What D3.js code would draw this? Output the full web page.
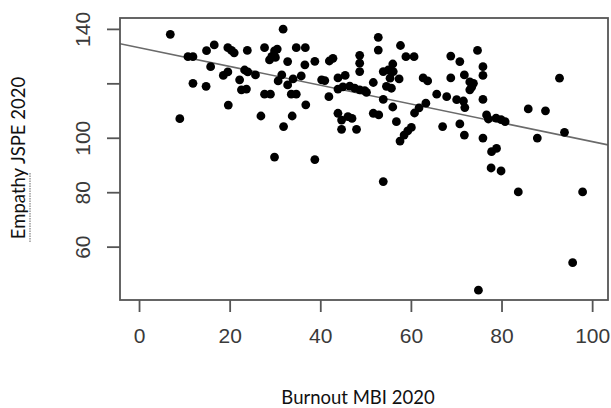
<!DOCTYPE html>
<html>
<head>
<meta charset="utf-8">
<script src="https://cdn.jsdelivr.net/npm/d3@7"></script>
<style>
  body { margin: 0; background: #fff; }
  svg { display: block; }
</style>
</head>
<body>
<svg id="chart" width="611" height="408"></svg>
<script>
// Burnout MBI 2020 (x) vs Empathy JSPE 2020 (y)
var burnout = [6.9, 9.0, 10.8, 11.9, 11.9, 14.9, 14.8, 15.8, 16.6, 18.6,
  19.6, 19.6, 20.4, 21.0, 19.7, 22.2, 22.6, 23.7, 23.3, 24.0,
  23.9, 25.7, 26.9, 27.7, 27.7, 29.0, 28.8, 29.3, 29.9, 30.5,
  30.1, 29.9, 30.7, 31.8, 31.9, 32.8, 31.5, 32.8, 33.6, 34.7,
  34.0, 33.8, 34.7, 36.7, 36.6, 35.8, 36.8, 38.8, 38.8, 40.3,
  41.0, 42.0, 42.8, 41.9, 43.9, 45.5, 43.9, 45.0, 46.5, 47.6,
  48.7, 49.8, 43.9, 44.7, 44.7, 46.1, 47.0, 48.0, 48.7, 48.7,
  48.7, 50.2, 51.7, 52.8, 52.8, 53.9, 55.0, 56.0, 56.1, 55.4,
  57.4, 53.9, 54.6, 55.7, 51.7, 52.9, 56.0, 56.8, 53.9, 57.7,
  57.6, 58.5, 59.3, 60.1, 58.9, 60.7, 60.8, 61.8, 63.3, 62.7,
  63.7, 65.7, 67.0, 67.9, 68.8, 68.8, 70.1, 71.6, 71.9, 70.8,
  70.8, 71.8, 71.8, 73.0, 73.4, 73.8, 73.0, 74.7, 75.9, 75.9,
  75.9, 75.9, 76.7, 77.1, 78.8, 79.9, 80.8, 77.8, 78.9, 77.7,
  79.9, 83.7, 85.9, 87.9, 89.7, 92.8, 93.9, 97.9, 74.9, 95.7];
var empathy = [138.0, 107.0, 129.8, 129.8, 120.0, 132.0, 118.9, 126.1, 134.1, 122.9,
  124.2, 133.1, 132.1, 131.2, 112.0, 121.3, 117.6, 117.9, 124.9, 124.2,
  132.1, 123.1, 108.0, 133.1, 116.0, 116.0, 128.6, 129.9, 131.9, 132.6,
  129.5, 92.9, 120.9, 139.9, 104.1, 128.0, 123.1, 119.4, 116.0, 116.0,
  121.6, 108.0, 133.1, 133.1, 126.8, 122.7, 112.1, 128.1, 92.0, 121.3,
  121.0, 128.2, 129.2, 115.1, 122.0, 122.9, 117.9, 118.7, 119.0, 118.2,
  117.6, 117.3, 109.0, 106.5, 103.1, 107.8, 107.1, 103.1, 130.3, 127.4,
  124.3, 116.7, 120.3, 136.9, 132.2, 124.3, 124.9, 127.1, 124.3, 121.9,
  121.6, 114.1, 118.9, 118.2, 109.0, 108.4, 111.3, 105.9, 83.9, 133.9,
  98.8, 101.0, 102.5, 103.8, 129.8, 129.8, 109.1, 111.0, 112.7, 122.0,
  120.9, 116.0, 104.1, 115.1, 130.0, 122.0, 114.0, 113.5, 111.1, 128.0,
  105.1, 123.1, 101.0, 120.5, 118.6, 120.0, 117.6, 132.1, 126.1, 122.9,
  114.1, 99.9, 108.4, 106.9, 107.2, 106.7, 105.9, 94.9, 96.1, 88.9,
  87.8, 80.1, 110.6, 99.9, 109.9, 121.9, 102.0, 80.1, 44.0, 54.1];

var xTicks = [0, 20, 40, 60, 80, 100];
var yTicks = [60, 80, 100, 120, 140];
var yTickLabels = ["60", "80", "100", "", "140"];   // R dropped the 120 label

// fitted line y = a + b*x
var fitIntercept = 133.1;
var fitSlope = -0.345;

var xLabel = "Burnout MBI 2020";
var yLabel = "Empathy JSPE 2020";

var svg = d3.select("#chart");

// plot region (note: "top" is taken by window.top)
var pLeft = 120, pRight = 608, pTop = 18, pBottom = 300;

var x = d3.scaleLinear().domain([-4.2, 103.5]).range([pLeft, pRight]);
var y = d3.scaleLinear().domain([40.4, 144]).range([pBottom, pTop]);

var points = burnout.map(function(d, i) { return {x: d, y: empathy[i]}; });

svg.append("clipPath").attr("id", "plotclip")
  .append("rect")
  .attr("x", pLeft).attr("y", pTop)
  .attr("width", pRight - pLeft).attr("height", pBottom - pTop);

// regression line across the whole plot region
var xd = x.domain();
svg.append("line")
  .attr("clip-path", "url(#plotclip)")
  .attr("x1", x(xd[0])).attr("y1", y(fitIntercept + fitSlope * xd[0]))
  .attr("x2", x(xd[1])).attr("y2", y(fitIntercept + fitSlope * xd[1]))
  .style("stroke", "#6a6a6a")
  .style("stroke-width", 1.6);

svg.append("g")
  .selectAll("circle")
  .data(points)
  .enter()
  .append("circle")
    .attr("cx", function(d) { return x(d.x); })
    .attr("cy", function(d) { return y(d.y); })
    .attr("r", 4.4)
    .style("fill", "#000");

// box
svg.append("rect")
  .attr("x", pLeft).attr("y", pTop)
  .attr("width", pRight - pLeft).attr("height", pBottom - pTop)
  .style("fill", "none")
  .style("stroke", "#555")
  .style("stroke-width", 1.8);

var xAxis = svg.append("g")
  .attr("transform", "translate(0," + pBottom + ")")
  .call(d3.axisBottom(x).tickValues(xTicks).tickSize(12).tickPadding(16));

var yAxis = svg.append("g")
  .attr("transform", "translate(" + pLeft + ",0)")
  .call(d3.axisLeft(y).tickValues(yTicks).tickSize(13)
    .tickFormat(function(d, i) { return yTickLabels[i]; }));

[xAxis, yAxis].forEach(function(ax) {
  ax.select(".domain").remove();
  ax.selectAll(".tick line").style("stroke", "#555").style("stroke-width", 1.8);
  ax.selectAll(".tick text")
    .style("font-family", "'Liberation Sans', Arial, sans-serif")
    .style("font-size", "21px")
    .style("fill", "#3a3a3a");
});

yAxis.selectAll(".tick text")
  .attr("transform", "rotate(-90)")
  .attr("x", 0)
  .attr("y", -30)
  .attr("dy", "0")
  .style("text-anchor", "middle");

xAxis.selectAll(".tick text").attr("dy", "0.71em");

svg.append("text")
  .attr("x", 358).attr("y", 404)
  .style("text-anchor", "middle")
  .style("font-family", "Lato, 'Open Sans', sans-serif")
  .style("font-size", "18.5px")
  .style("fill", "#111")
  .text(xLabel);

svg.append("text")
  .attr("transform", "translate(25,158) rotate(-90)")
  .style("text-anchor", "middle")
  .style("font-family", "Lato, 'Open Sans', sans-serif")
  .style("font-size", "18.5px")
  .style("fill", "#111")
  .text(yLabel);

// spell-check squiggle under "Empathy"
svg.append("line")
  .attr("x1", 30).attr("y1", 242)
  .attr("x2", 30).attr("y2", 172)
  .style("stroke", "#999")
  .style("stroke-width", 1.5)
  .style("stroke-dasharray", "1.5,1");
</script>
</body>
</html>
